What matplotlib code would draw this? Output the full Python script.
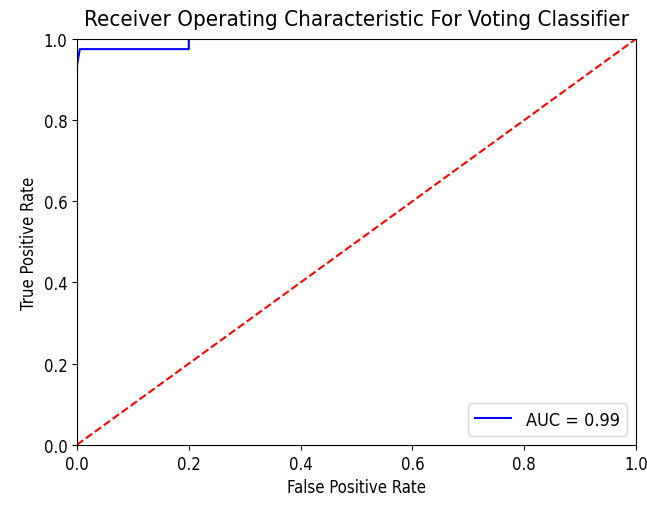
import matplotlib.pyplot as plt

# ROC curve
fpr = [0.0, 0.0, 0.0, 0.005, 0.005, 0.2, 0.2, 1.0]
tpr = [0.0, 0.90, 0.935, 0.975, 0.975, 0.975, 1.0, 1.0]
auc_label = "AUC = 0.99"
title = "Receiver Operating Characteristic For Voting Classifier"

plt.rcParams["font.family"] = ["DejaVu Sans"]
plt.rcParams["font.stretch"] = "condensed"

fig = plt.figure(figsize=(6.47, 5.06), dpi=100)
ax = fig.add_axes([0.119, 0.119, 0.864, 0.802])
ax.plot(fpr, tpr, "b", label=auc_label)
ax.plot([0, 1], [0, 1], "r--")
ax.set_xlim([0, 1])
ax.set_ylim([0, 1])
ax.legend(loc="lower right", fontsize=13)
ax.set_title(title, fontsize=16, pad=10)
ax.set_ylabel("True Positive Rate", fontsize=12)
ax.set_xlabel("False Positive Rate", fontsize=12)
ax.tick_params(labelsize=12)
fig.savefig("out.png", dpi=100)
